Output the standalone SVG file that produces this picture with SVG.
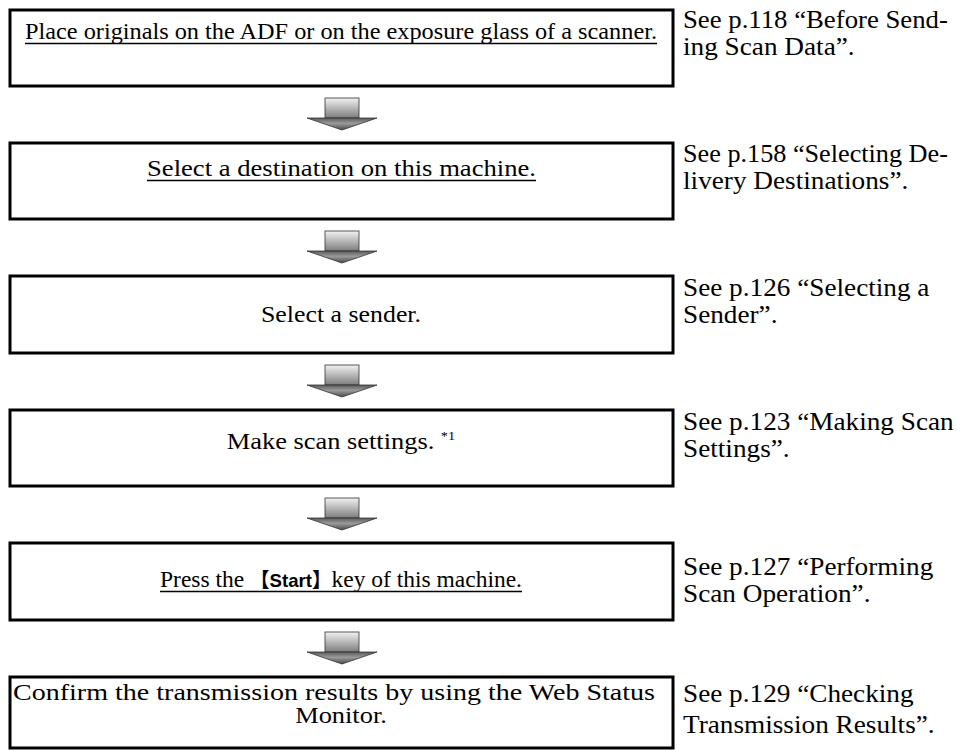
<svg xmlns="http://www.w3.org/2000/svg" width="957" height="750" viewBox="0 0 957 750">
<defs>
<linearGradient id="stemG" x1="0" y1="0" x2="0" y2="1">
<stop offset="0" stop-color="#f2f2f2"/>
<stop offset="1" stop-color="#7d7d7d"/>
</linearGradient>
<linearGradient id="headG" x1="0" y1="0" x2="0" y2="1">
<stop offset="0" stop-color="#5a5a5a"/>
<stop offset="0.45" stop-color="#9a9a9a"/>
<stop offset="1" stop-color="#4a4a4a"/>
</linearGradient>
<g id="arrow">
<rect x="325" y="0" width="34" height="20" fill="url(#stemG)" stroke="#333" stroke-width="0.8"/>
<path d="M307,20 L377,20 L342,32 Z" fill="url(#headG)" stroke="#333" stroke-width="0.8" stroke-linejoin="round"/>
</g>
</defs>
<style>
.box{fill:#fff;stroke:#000;stroke-width:3}
.t{font-family:"Liberation Serif","Times New Roman",serif;font-size:24px;fill:#000}
.r{font-family:"Liberation Serif","Times New Roman",serif;font-size:25px;fill:#000}
.c{text-anchor:middle}
.ul{stroke:#000;stroke-width:1.6}
.key{font-family:"Liberation Sans",Arial,sans-serif;font-weight:bold;font-size:19px}
.br{font-family:"Noto Sans CJK JP","Noto Sans CJK SC",sans-serif;font-weight:bold;font-size:20px}
.sup{font-family:"Liberation Serif",serif;font-size:13px}
</style>
<rect width="957" height="750" fill="#fff"/>
<g id="connectors">
<use href="#arrow" y="98"/>
<use href="#arrow" y="231"/>
<use href="#arrow" y="365"/>
<use href="#arrow" y="498"/>
<use href="#arrow" y="632"/>
</g>
<g id="step1">
<rect class="box" x="10" y="10" width="663" height="76"/>
<text class="t c" x="341" y="39" textLength="632" lengthAdjust="spacingAndGlyphs">Place originals on the ADF or on the exposure glass of a scanner.</text>
<line class="ul" x1="25" y1="43.5" x2="657" y2="43.5"/>
<g transform="translate(683,0) scale(1.09,1)">
<text class="r" x="0" y="28" textLength="243" lengthAdjust="spacingAndGlyphs">See p.118 “Before Send-</text>
<text class="r" x="0" y="55">ing Scan Data”.</text>
</g>
</g>
<g id="step2">
<rect class="box" x="10" y="143" width="663" height="76"/>
<text class="t c" x="341.5" y="176" textLength="389" lengthAdjust="spacingAndGlyphs">Select a destination on this machine.</text>
<line class="ul" x1="147" y1="180.5" x2="536" y2="180.5"/>
<g transform="translate(683,0) scale(1.09,1)">
<text class="r" x="0" y="162" textLength="243" lengthAdjust="spacingAndGlyphs">See p.158 “Selecting De-</text>
<text class="r" x="0" y="189">livery Destinations”.</text>
</g>
</g>
<g id="step3">
<rect class="box" x="10" y="276" width="663" height="77"/>
<text class="t c" x="341" y="322" textLength="160" lengthAdjust="spacingAndGlyphs">Select a sender.</text>
<g transform="translate(683,0) scale(1.09,1)">
<text class="r" x="0" y="296">See p.126 “Selecting a</text>
<text class="r" x="0" y="323">Sender”.</text>
</g>
</g>
<g id="step4">
<rect class="box" x="10" y="410" width="663" height="76"/>
<g transform="translate(341,0) scale(1.1,1)">
<text class="t c" x="0" y="449">Make scan settings. <tspan class="sup" dy="-9">*1</tspan></text>
</g>
<g transform="translate(683,0) scale(1.09,1)">
<text class="r" x="0" y="430">See p.123 “Making Scan</text>
<text class="r" x="0" y="457">Settings”.</text>
</g>
</g>
<g id="step5">
<rect class="box" x="10" y="543" width="663" height="77"/>
<text class="t c" x="341" y="587" textLength="362" lengthAdjust="spacingAndGlyphs">Press the <tspan class="br">【</tspan><tspan class="key">Start</tspan><tspan class="br">】</tspan>key of this machine.</text>
<line class="ul" x1="160" y1="591.5" x2="522" y2="591.5"/>
<g transform="translate(683,0) scale(1.09,1)">
<text class="r" x="0" y="575">See p.127 “Performing</text>
<text class="r" x="0" y="602">Scan Operation”.</text>
</g>
</g>
<g id="step6">
<rect class="box" x="10" y="677" width="663" height="71"/>
<text class="t c" x="334" y="700" textLength="642" lengthAdjust="spacingAndGlyphs">Confirm the transmission results by using the Web Status</text>
<g transform="translate(341,0) scale(1.1,1)">
<text class="t c" x="0" y="723">Monitor.</text>
</g>
<g transform="translate(683,0) scale(1.09,1)">
<text class="r" x="0" y="702">See p.129 “Checking</text>
<text class="r" x="0" y="733">Transmission Results”.</text>
</g>
</g>
</svg>
